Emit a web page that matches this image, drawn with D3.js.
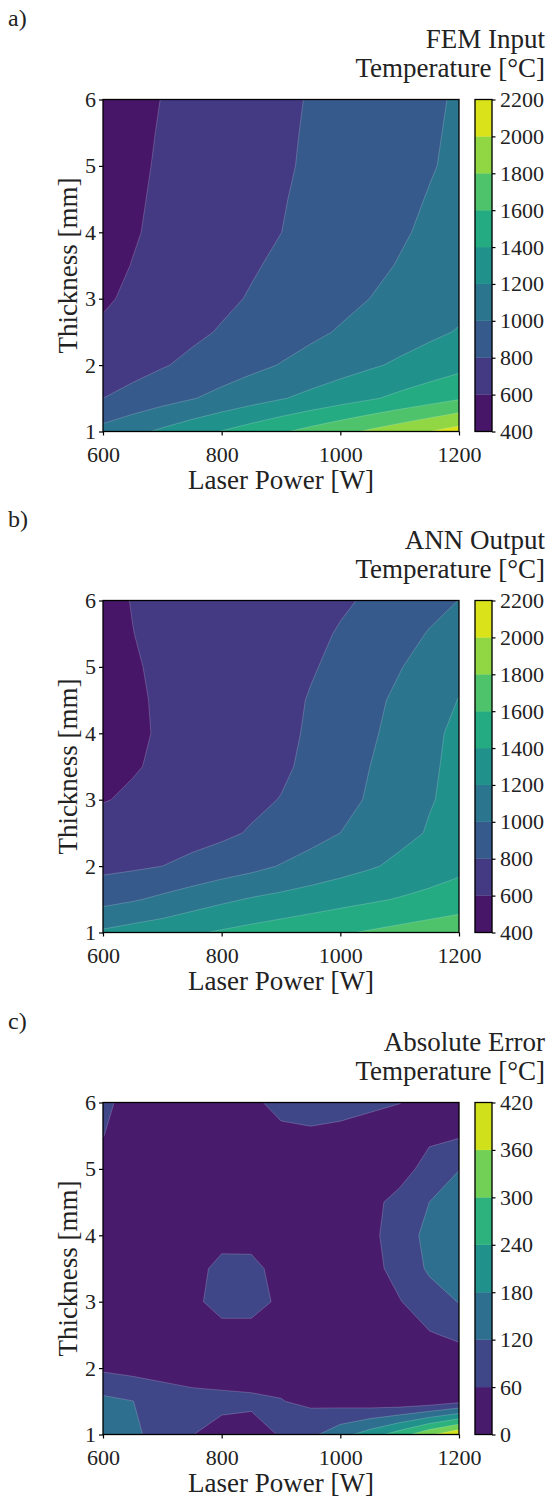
<!DOCTYPE html>
<html><head><meta charset="utf-8">
<script src="https://cdn.jsdelivr.net/npm/d3@7"></script>
<style>
body{margin:0;background:#fff;}
svg text{font-family:"Liberation Serif","Times New Roman",serif;fill:#222;}
</style></head><body>
<svg id="chart" width="547" height="1497"></svg>
<script>
// ---- data ----
const laserPower = [600, 650, 700, 750, 800, 850, 900, 950, 1000, 1050, 1100, 1150, 1200];
const thickness = [1, 1.5, 2, 2.5, 3, 3.5, 4, 4.5, 5, 5.5, 6];

// rows: thickness 1 .. 6 ; columns: laser power 600 .. 1200
const femInput = [
  [1062, 1148, 1234, 1321, 1407, 1491, 1576, 1661, 1746, 1830, 1915, 2000, 2085],
  [800, 863, 927, 990, 1055, 1121, 1187, 1251, 1314, 1378, 1445, 1510, 1580],
  [675, 730, 786, 841, 897, 952, 1008, 1063, 1119, 1174, 1230, 1285, 1341],
  [625, 670, 714, 764, 814, 864, 914, 964, 1014, 1063, 1112, 1162, 1212],
  [580, 627, 673, 720, 766, 813, 860, 907, 954, 1001, 1048, 1095, 1142],
  [559, 604, 649, 694, 739, 784, 829, 874, 919, 964, 1009, 1054, 1099],
  [546, 588, 630, 673, 715, 757, 799, 845, 891, 936, 982, 1027, 1073],
  [540, 581, 623, 665, 707, 748, 790, 833, 877, 920, 964, 1008, 1052],
  [533, 574, 616, 657, 698, 739, 780, 821, 863, 905, 947, 989, 1031],
  [527, 568, 610, 651, 692, 733, 775, 816, 857, 899, 941, 982, 1024],
  [520, 562, 603, 644, 686, 727, 769, 810, 851, 893, 934, 975, 1017]
];
const annOutput = [
  [1230, 1280, 1318, 1375, 1422, 1462, 1501, 1540, 1580, 1619, 1658, 1697, 1735],
  [935, 980, 1038, 1100, 1162, 1215, 1254, 1293, 1333, 1372, 1412, 1451, 1490],
  [750, 770, 800, 845, 895, 945, 1010, 1070, 1125, 1180, 1240, 1300, 1355],
  [680, 695, 712, 735, 765, 815, 875, 935, 1000, 1075, 1150, 1213, 1283],
  [591, 624, 656, 690, 725, 762, 806, 875, 946, 1018, 1100, 1190, 1240],
  [550, 587, 626, 660, 695, 730, 770, 840, 900, 1000, 1080, 1175, 1245],
  [525, 565, 622, 648, 680, 715, 752, 825, 880, 975, 1060, 1160, 1240],
  [530, 568, 628, 650, 680, 712, 745, 812, 862, 950, 1040, 1125, 1205],
  [540, 585, 628, 655, 683, 712, 740, 785, 842, 905, 990, 1080, 1160],
  [550, 598, 635, 660, 685, 710, 735, 765, 812, 870, 930, 1012, 1100],
  [560, 605, 640, 662, 685, 708, 730, 755, 780, 818, 880, 940, 1002]
];
const absError = [
  [150, 130, 100, 61, 46, 44, 63, 106, 157, 209, 272, 349, 415],
  [135, 121, 88, 74, 70, 67, 62, 48, 36, 23, 15, 21, 45],
  [50, 40, 40, 40, 40, 40, 40, 35, 30, 25, 20, 20, 25],
  [30, 32, 38, 45, 52, 50, 40, 30, 25, 25, 35, 55, 70],
  [25, 30, 38, 55, 68, 70, 55, 35, 28, 35, 57, 95, 122],
  [25, 28, 35, 50, 68, 66, 52, 35, 28, 40, 82, 128, 160],
  [25, 25, 25, 30, 50, 52, 35, 25, 25, 45, 91, 136, 170],
  [30, 25, 22, 25, 30, 30, 28, 25, 25, 45, 77, 120, 160],
  [40, 30, 25, 25, 25, 28, 30, 30, 28, 30, 38, 80, 118],
  [61, 35, 28, 28, 30, 35, 48, 52, 46, 32, 35, 50, 55],
  [75, 35, 30, 35, 40, 50, 75, 80, 78, 72, 61, 45, 30]
];

const tempLevels = [400, 600, 800, 1000, 1200, 1400, 1600, 1800, 2000, 2200];
const errorLevels = [0, 60, 120, 180, 240, 300, 360, 420];
const xTickValues = [600, 800, 1000, 1200];
const yTickValues = [1, 2, 3, 4, 5, 6];
const panelLabels = ["a)", "b)", "c)"];
const titleLines = ["FEM Input", "ANN Output", "Absolute Error"];
const unitLine = "Temperature [\u00B0C]";
const xTitle = "Laser Power [W]";
const yTitle = "Thickness [mm]";

// ---- layout ----
const panels = [
  {grid: femInput, levels: tempLevels, top: 99.5},
  {grid: annOutput, levels: tempLevels, top: 600.5},
  {grid: absError, levels: errorLevels, top: 1102.5}
];
const L = 103, R = 459, H = 332, cbX = 475, cbW = 17;
const tickFont = 22, labelFont = 27;

const svg = d3.select("#chart");
const defs = svg.append("defs");

panels.forEach((p, k) => {
  const top = p.top, bottom = top + H;
  const x = d3.scaleLinear().domain([laserPower[0], laserPower[laserPower.length - 1]]).range([L, R]);
  const y = d3.scaleLinear().domain([thickness[0], thickness[thickness.length - 1]]).range([bottom, top]);
  const lo = p.levels[0], hi = p.levels[p.levels.length - 1];
  const color = d3.scaleSequential(d3.interpolateViridis).domain([lo, hi]);
  const bandColor = (i) => color((p.levels[i] + p.levels[i + 1]) / 2);

  const n = laserPower.length, m = thickness.length;
  const values = p.grid.flat();
  const thr = p.levels.slice(0, -1);
  const contours = d3.contours().size([n, m]).thresholds(thr)(values);
  const dxP = laserPower[1] - laserPower[0], dyT = thickness[1] - thickness[0];
  const proj = d3.geoTransform({
    point: function (cx, cy) {
      this.stream.point(x(laserPower[0] + (cx - 0.5) * dxP), y(thickness[0] + (cy - 0.5) * dyT));
    }
  });
  const path = d3.geoPath(proj);

  defs.append("clipPath").attr("id", "clip" + k)
    .append("rect").attr("x", L).attr("y", top).attr("width", R - L).attr("height", H);

  const g = svg.append("g");
  g.append("g").attr("clip-path", `url(#clip${k})`)
    .selectAll("path").data(contours).join("path")
    .attr("d", path)
    .attr("fill", d => bandColor(p.levels.indexOf(d.value)))
    .attr("stroke", "rgba(255,255,255,0.28)")
    .attr("stroke-width", 0.7);

  // frame
  g.append("rect").attr("x", L).attr("y", top).attr("width", R - L).attr("height", H)
    .attr("fill", "none").attr("stroke", "#000").attr("stroke-width", 1.3);

  // axes
  const xAxis = g.append("g").attr("transform", `translate(0,${bottom})`)
    .call(d3.axisBottom(x).tickValues(xTickValues).tickSize(4).tickPadding(11).tickFormat(d3.format("d")));
  const yAxis = g.append("g").attr("transform", `translate(${L},0)`)
    .call(d3.axisLeft(y).tickValues(yTickValues).tickSize(4).tickPadding(3).tickFormat(d3.format("d")));
  [xAxis, yAxis].forEach(a => {
    a.select(".domain").remove();
    a.selectAll(".tick line").attr("stroke", "#000").attr("stroke-width", 1.2);
    a.selectAll(".tick text").attr("font-size", tickFont).attr("fill", "#222");
    a.attr("font-family", null).attr("font-size", null);
  });

  // axis titles
  g.append("text").attr("x", (L + R) / 2).attr("y", bottom + 57.5)
    .attr("text-anchor", "middle").attr("font-size", labelFont).text(xTitle);
  g.append("text").attr("transform", `translate(77,${(top + bottom) / 2}) rotate(-90)`)
    .attr("text-anchor", "middle").attr("font-size", labelFont).text(yTitle);

  // colorbar
  const cy = d3.scaleLinear().domain([lo, hi]).range([bottom, top]);
  const cb = g.append("g");
  cb.selectAll("rect.band").data(d3.range(p.levels.length - 1)).join("rect")
    .attr("class", "band")
    .attr("x", cbX).attr("width", cbW)
    .attr("y", i => cy(p.levels[i + 1]))
    .attr("height", i => cy(p.levels[i]) - cy(p.levels[i + 1]))
    .attr("fill", i => bandColor(i))
    .attr("stroke", i => bandColor(i)).attr("stroke-width", 0.3);
  cb.append("rect").attr("x", cbX).attr("y", top).attr("width", cbW).attr("height", H)
    .attr("fill", "none").attr("stroke", "#000").attr("stroke-width", 1.3);
  const cAxis = cb.append("g").attr("transform", `translate(${cbX + cbW},0)`)
    .call(d3.axisRight(cy).tickValues(p.levels).tickSize(3.5).tickPadding(4.5).tickFormat(d3.format("d")));
  cAxis.select(".domain").remove();
  cAxis.attr("font-family", null).attr("font-size", null);
  cAxis.selectAll(".tick line").attr("stroke", "#000").attr("stroke-width", 1.2);
  cAxis.selectAll(".tick text").attr("font-size", tickFont).attr("fill", "#222");

  // titles
  g.append("text").attr("x", 545).attr("y", top - 51.5).attr("text-anchor", "end")
    .attr("font-size", labelFont).text(titleLines[k]);
  g.append("text").attr("x", 545).attr("y", top - 22.5).attr("text-anchor", "end")
    .attr("font-size", labelFont).text(unitLine);

  // panel label
  g.append("text").attr("x", 8).attr("y", top - 74).attr("font-size", 24).text(panelLabels[k]);
});
</script>
</body></html>
